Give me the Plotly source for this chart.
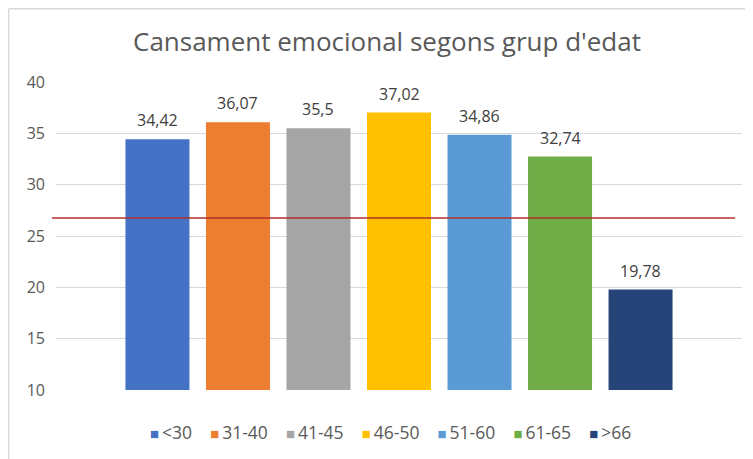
import plotly.graph_objects as go

groups = ["<30", "31-40", "41-45", "46-50", "51-60", "61-65", ">66"]
values = [34.42, 36.07, 35.5, 37.02, 34.86, 32.74, 19.78]
colors = ["#4472C4", "#ED7D31", "#A5A5A5", "#FFC000", "#5B9BD5", "#70AD47", "#264478"]
reference_value = 26.75
y_ticks = [10, 15, 20, 25, 30, 35, 40]

fig = go.Figure()
for g, v, c in zip(groups, values, colors):
    fig.add_trace(go.Bar(
        x=[g], y=[v], name=g, marker=dict(color=c, line=dict(width=0)),
        showlegend=False, hoverinfo="x+y",
    ))

value_labels = [
    dict(x=g, y=v, text=str(v).replace(".", ","), xref="x", yref="y", showarrow=False,
         yanchor="middle", yshift=19, font=dict(family="Open Sans", size=16, color="#404040"))
    for g, v in zip(groups, values)
]

legend_text = "&nbsp;&nbsp;&nbsp;&nbsp;".join(
    f"<span style='color:{c};font-size:15px'>■</span>&#8201;{g}" for g, c in zip(groups, colors)
)

fig.update_layout(
    width=753, height=459,
    margin=dict(l=48, r=19, t=74, b=77),
    paper_bgcolor="white", plot_bgcolor="white",
    barmode="overlay", bargap=0.205,
    title=dict(text="Cansament emocional segons grup d'edat", x=(387 - 8) / 753, xanchor="center",
               y=1 - 34 / 459, yanchor="middle",
               font=dict(family="Open Sans", size=26, color="#595959")),
    showlegend=False,
    xaxis=dict(type="category", categoryorder="array", categoryarray=groups,
               range=[-1.26, 7.26], showticklabels=False, showgrid=False, zeroline=False, showline=False),
    yaxis=dict(range=[10, 40], tickvals=y_ticks, showgrid=True, gridcolor="#D9D9D9", gridwidth=1,
               zeroline=False, showline=False, ticks="", ticklabelstandoff=10,
               tickfont=dict(family="Open Sans", size=16, color="#595959")),
    annotations=value_labels + [dict(text=legend_text, xref="paper", yref="paper", x=(390 - 56) / 686, y=-42 / 308,
                      xanchor="center", yanchor="middle", showarrow=False,
                      font=dict(family="Open Sans", size=17.5, color="#595959"))],
    shapes=[
        dict(type="line", xref="paper", yref="y", x0=-0.006, x1=0.99,
             y0=reference_value, y1=reference_value, line=dict(color="#B0302B", width=1.5)),
        dict(type="line", xref="paper", yref="paper", x0=-0.069, x1=-0.069, y0=1.238, y1=-0.26,
             line=dict(color="#D9D9D9", width=1.5)),
        dict(type="line", xref="paper", yref="paper", x0=-0.069, x1=1.03, y0=1.238, y1=1.238,
             line=dict(color="#D9D9D9", width=1.5)),
    ],
)

fig.write_html("out.html")
